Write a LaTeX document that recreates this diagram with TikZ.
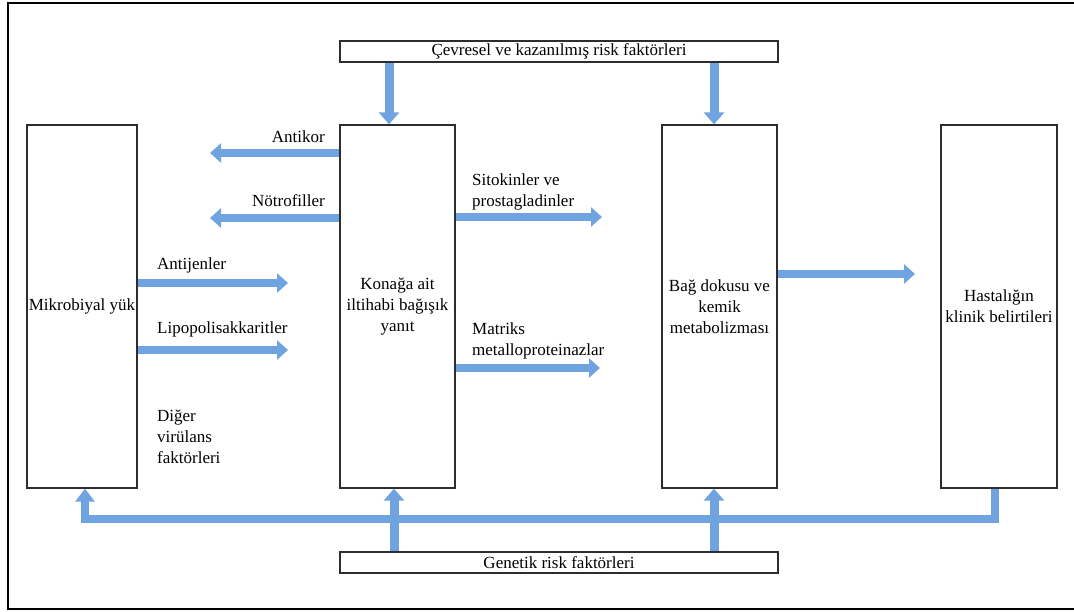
\documentclass[tikz,border=0pt]{standalone}
\usepackage{fontspec}
\setmainfont{Liberation Serif}
\usetikzlibrary{arrows.meta}
\pgfdeclarelayer{bg}
\pgfsetlayers{bg,main}
\definecolor{arrblue}{RGB}{112,164,224}
\definecolor{boxline}{RGB}{45,45,45}
\begin{document}
\begin{tikzpicture}[x=1pt,y=-1pt,
  font=\fontsize{17}{21}\selectfont,
  box/.style={draw=boxline,line width=1.3pt,fill=white,inner sep=0pt,align=center},
  harrow/.style={draw=arrblue,line width=8.5pt,-{Triangle[width=19pt,length=11pt]}},
  varrow/.style={draw=arrblue,line width=9pt,line join=miter,-{Triangle[width=20pt,length=12pt]}},
  lbl/.style={inner sep=0pt,align=left}]
\useasboundingbox (0,0) rectangle (1074,612);
\draw[line width=2.2pt] (1080,3) -- (8,3) -- (8,609) -- (1080,609);

% boxes
\node[box,minimum width=438pt,minimum height=21pt] (env) at (559,51.5) {Çevresel ve kazanılmış risk faktörleri};
\node[box,minimum width=110pt,minimum height=363pt] (mik) at (82,306.5) {Mikrobiyal yük};
\node[box,minimum width=115pt,minimum height=363pt] (kon) at (397.5,306.5) {Konağa ait\\iltihabi bağışık\\yanıt};
\node[box,minimum width=115pt,minimum height=363pt] (bag) at (719.5,306.5) {Bağ dokusu ve\\kemik\\metabolizması};
\node[box,minimum width=116pt,minimum height=363pt] (has) at (999,306.5) {Hastalığın\\klinik belirtileri};
\node[box,minimum width=438pt,minimum height=21pt] (gen) at (559,562.5) {Genetik risk faktörleri};

% labels
\node[lbl,anchor=base east] (l1) at (325,143) {Antikor};
\node[lbl,anchor=base east] (l2) at (325,207) {Nötrofiller};
\node[lbl,anchor=base west] (l3) at (157,270) {Antijenler};
\node[lbl,anchor=base west] (l4) at (157,334) {Lipopolisakkaritler};
\node[lbl,anchor=west] (l5) at (472,191.5) {Sitokinler ve\\prostagladinler};
\node[lbl,anchor=west] (l6) at (472,340.5) {Matriks\\metalloproteinazlar};
\node[lbl,anchor=west] (l7) at (157,437) {Diğer\\virülans\\faktörleri};

% free ends and positions
\coordinate (a1) at (210,153);
\coordinate (a2) at (210,218);
\coordinate (a3) at (288,283);
\coordinate (a4) at (288,350);
\coordinate (a5) at (602,217);
\coordinate (a6) at (600,368);
\coordinate (a7) at (915,274);
\coordinate (xk) at (389,0);
\coordinate (xb) at (714,0);
\coordinate (gk) at (394,0);
\coordinate (gb) at (714,0);
\coordinate (bm) at (85,519);
\coordinate (bh) at (995,519);

\begin{pgfonlayer}{bg}
\draw[harrow] (kon.west |- a1) -- (a1);
\draw[harrow] (kon.west |- a2) -- (a2);
\draw[harrow] (mik.east |- a3) -- (a3);
\draw[harrow] (mik.east |- a4) -- (a4);
\draw[harrow] (kon.east |- a5) -- (a5);
\draw[harrow] (kon.east |- a6) -- (a6);
\draw[harrow] (bag.east |- a7) -- (a7);
\draw[varrow] (env.south -| xk) -- (kon.north -| xk);
\draw[varrow] (env.south -| xb) -- (bag.north -| xb);
\draw[varrow,line width=8pt,-{Triangle[width=19pt,length=13pt]}] (has.south -| bh) -- (bh) -- (bm) -- (mik.south -| bm);
\draw[varrow] (gen.north -| gk) -- (kon.south -| gk);
\draw[varrow] (gen.north -| gb) -- (bag.south -| gb);
\end{pgfonlayer}
\end{tikzpicture}
\end{document}
